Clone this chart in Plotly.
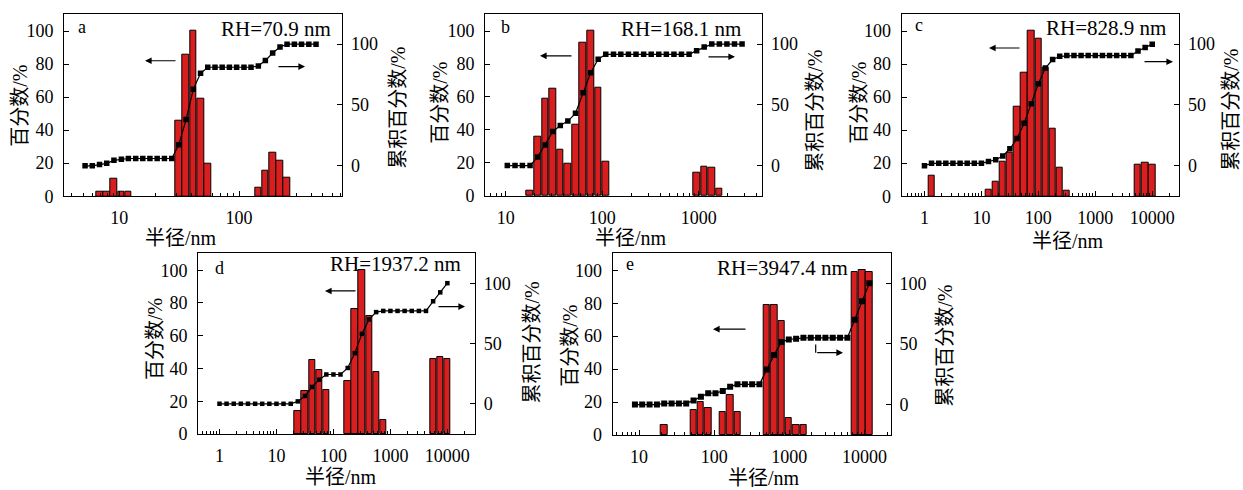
import numpy as np
import plotly.graph_objects as go

W, H = 1243, 490
RED = "#d81e1e"
FONT = "Liberation Serif, 'Noto Sans CJK SC', serif"

# ---------------- data (radius in nm, percent) ----------------
# panel a
a_cum_r = [5.17, 5.94, 6.83, 7.84, 9.01, 10.4, 11.9, 13.7, 15.7, 18.0, 20.7, 23.8, 27.4,
           31.4, 36.1, 41.5, 47.7, 54.8, 63.0, 72.3, 83.1, 95.5, 110, 126, 145, 166, 191,
           220, 252, 290, 333, 383, 440]
a_cum = [0, 0, 1, 2, 4.5, 5.4, 6, 6, 6, 6, 6, 6, 6, 17.3, 38, 63, 76, 81, 81, 81, 81, 81,
         81, 81, 82, 86.5, 92.7, 97.6, 100, 100, 100, 100, 100]
a_bar_r = [6.83, 7.84, 9.01, 10.4, 11.9, 31.4, 36.1, 41.5, 47.7, 54.8, 145, 166, 191, 220, 252]
a_bar = [3, 3, 10.5, 3, 3, 45.5, 85.5, 100, 59, 19.5, 5, 15.5, 26.5, 21.5, 11]

# panel b
b_cum_r = [10.4, 12.5, 14.9, 17.9, 21.4, 25.7, 30.8, 36.8, 44.1, 52.9, 63.4, 75.9, 90.9,
           109, 131, 156, 187, 224, 269, 322, 386, 462, 554, 663, 795, 952, 1140, 1366,
           1637, 1961, 2349, 2814]
b_cum = [0, 0, 0, 0, 7, 17, 28, 33, 36.6, 43, 60, 76.4, 87.5, 91.6, 91.6, 91.6, 91.6, 91.6,
         91.6, 91.6, 91.6, 91.6, 91.6, 91.6, 91.6, 94.6, 97.6, 100, 100, 100, 100, 100]
b_bar_r = [17.9, 21.4, 25.7, 30.8, 36.8, 44.1, 52.9, 63.4, 75.9, 90.9, 109, 952, 1140, 1366, 1637]
b_bar = [3, 36, 59, 65, 28, 19.5, 43, 93, 100, 65.5, 21, 14, 18, 17, 4.5]

# panel c
c_cum_r = [1, 1.33, 1.78, 2.37, 3.16, 4.22, 5.62, 7.5, 10, 13.3, 17.8, 23.7, 31.6, 42.2,
           56.2, 75, 100, 133, 178, 237, 316, 422, 562, 750, 1000, 1334, 1778, 2371, 3162,
           4217, 5623, 7499, 10000]
c_cum = [0, 2, 2, 2, 2, 2, 2, 2, 2, 3.5, 5, 8, 14, 22.4, 35, 51, 67.4, 80.3, 87.3, 90, 90.6,
         90.6, 90.6, 90.6, 90.6, 90.6, 90.6, 90.6, 90.6, 90.6, 94.3, 97.3, 100]
c_bar_r = [1.33, 13.3, 17.8, 23.7, 31.6, 42.2, 56.2, 75, 100, 133, 178, 237, 316, 5623, 7499, 10000]
c_bar = [12.5, 4, 8.7, 21, 26.4, 54, 74.6, 100, 95.5, 78, 40.6, 17, 3.5, 19, 20, 19]

# panel d
d_cum_r = [1, 1.33, 1.78, 2.37, 3.16, 4.22, 5.62, 7.5, 10, 13.3, 17.8, 23.7, 31.6, 42.2,
           56.2, 75, 100, 133, 178, 237, 316, 422, 562, 750, 1000, 1334, 1778, 2371, 3162,
           4217, 5623, 7499, 10000]
d_cum = [0, 0, 0, 0, 0, 0, 0, 0, 0, 0, 0, 2, 6.5, 14, 20, 24.3, 24.3, 24.3, 29.7, 42, 58,
         70, 76, 77, 77, 77, 77, 77, 77, 77, 85, 92.4, 100]
d_bar_r = [23.7, 31.6, 42.2, 56.2, 75, 178, 237, 316, 422, 562, 750, 5623, 7499, 10000]
d_bar = [14, 26, 45, 39, 27, 32.5, 76, 100, 72, 38, 8.5, 46, 47, 46]

# panel e
e_cum_r = [8.81, 11.0, 13.8, 17.3, 21.6, 27.1, 33.9, 42.4, 53.1, 66.5, 83.2, 104, 130, 163,
           204, 256, 320, 400, 501, 627, 785, 983, 1230, 1540, 1928, 2413, 3020, 3781, 4732,
           5923, 7413, 9279, 11614]
e_cum = [0, 0, 0, 0, 1, 1, 1, 1, 3.5, 6.5, 9.4, 9.4, 11.3, 14.8, 16.7, 16.7, 16.7, 16.7, 29,
         41, 51.6, 53.8, 54.3, 55.1, 55.1, 55.1, 55.1, 55.1, 55.1, 55.1, 70, 85.2, 100]
e_bar_r = [21.6, 53.1, 66.5, 83.2, 130, 163, 204, 501, 627, 785, 983, 1230, 1540, 7413, 9279, 11614]
e_bar = [6, 15, 20, 16.5, 14, 24, 14, 79, 79, 69, 10.5, 6.3, 6.3, 99, 100, 99]

labels = ["a", "b", "c", "d", "e"]
rh_text = ["RH=70.9 nm", "RH=168.1 nm", "RH=828.9 nm", "RH=1937.2 nm", "RH=3947.4 nm"]
major_ticks = [1, 10, 100, 1000, 10000]
major_text = ["1", "10", "100", "1000", "10000"]

panels = [
    dict(cr=a_cum_r, cv=a_cum, br=a_bar_r, bv=a_bar),
    dict(cr=b_cum_r, cv=b_cum, br=b_bar_r, bv=b_bar),
    dict(cr=c_cum_r, cv=c_cum, br=c_bar_r, bv=c_bar),
    dict(cr=d_cum_r, cv=d_cum, br=d_bar_r, bv=d_bar),
    dict(cr=e_cum_r, cv=e_cum, br=e_bar_r, bv=e_bar),
]

# ---------------- layout geometry (pixels) ----------------
boxes = [  # x0, x1, ytop, ybottom
    (64.3, 342.3, 14, 200.3),
    (485.3, 762.3, 14, 200.0),
    (901.7, 1179.3, 14, 200.3),
    (198.3, 475.0, 258.3, 443.0),
    (612.7, 890.7, 258.3, 444.0),
]
xranges = [(0.54, 2.863), (0.789, 3.659), (-0.400, 4.475), (-0.372, 4.485), (0.649, 4.349)]
bin_step = [0.0603, 0.0783, 0.125, 0.125, 0.0975]
bar_fill = [0.93, 0.88, 0.89, 0.89, 0.87]
msize = [5.5, 5.5, 5.5, 4.5, 6]

minor_vals = [m * 10 ** d for d in range(-1, 5) for m in range(2, 10)]

fig = go.Figure()
layout = dict(width=W, height=H, margin=dict(l=0, r=0, t=0, b=0),
              paper_bgcolor="white", plot_bgcolor="white", showlegend=False,
              font=dict(family=FONT, size=18, color="black"), bargap=0)

tickfont = dict(family=FONT, size=18, color="black")

for i, p in enumerate(panels):
    n = i + 1
    xname = "x" if n == 1 else f"x{n}"
    yl = 2 * n - 1
    yr = 2 * n
    ylname = "y" if yl == 1 else f"y{yl}"
    yrname = f"y{yr}"
    x0, x1, yt, yb = boxes[i]

    r = np.asarray(p["br"], float)
    half = bin_step[i] * bar_fill[i] / 2
    lo = r * 10 ** (-half)
    hi = r * 10 ** (half)
    fig.add_trace(go.Bar(x=p["br"], y=p["bv"], offset=(lo - r).tolist(), width=(hi - lo).tolist(),
                         marker=dict(color=RED, line=dict(color="black", width=1)),
                         xaxis=xname, yaxis=ylname, hoverinfo="x+y"))
    fig.add_trace(go.Scatter(x=p["cr"], y=p["cv"], mode="lines+markers",
                             line=dict(color="black", width=1.2),
                             marker=dict(symbol="square", size=msize[i], color="black"),
                             xaxis=xname, yaxis=yrname))

    lo_r, hi_r = xranges[i]
    mt = [(v, t) for v, t in zip(major_ticks, major_text) if 10 ** lo_r <= v <= 10 ** hi_r]
    mv = [v for v in minor_vals if 10 ** lo_r <= v <= 10 ** hi_r and v not in major_ticks]
    xkey = "xaxis" if n == 1 else f"xaxis{n}"
    layout[xkey] = dict(type="log", range=[lo_r, hi_r], domain=[x0 / W, x1 / W],
                        anchor=ylname, showline=True, linecolor="black", linewidth=1.2,
                        mirror=True, ticks="inside", ticklen=5, tickwidth=1, tickcolor="black",
                        tickmode="array", tickvals=[v for v, _ in mt], ticktext=[t for _, t in mt],
                        minor=dict(tickmode="array", tickvals=mv, ticks="inside", ticklen=3,
                                   tickwidth=1, tickcolor="black", showgrid=False),
                        showgrid=False, zeroline=False, tickfont=tickfont,
                        ticklabelstandoff=5)
    ylkey = "yaxis" if yl == 1 else f"yaxis{yl}"
    layout[ylkey] = dict(range=[0, 110.5], domain=[1 - yb / H, 1 - yt / H], anchor=xname,
                         side="left", showline=True, linecolor="black", linewidth=1.2,
                         ticks="inside", ticklen=5, tickwidth=1, tickcolor="black",
                         tickmode="array", tickvals=[0, 20, 40, 60, 80, 100],
                         showgrid=False, zeroline=False, tickfont=tickfont,
                         ticklabelstandoff=6)
    layout[f"yaxis{yr}"] = dict(range=[-25, 125], overlaying=ylname, anchor=xname,
                                side="right", showline=True, linecolor="black", linewidth=1.2,
                                ticks="inside", ticklen=5, tickwidth=1, tickcolor="black",
                                tickmode="array", tickvals=[0, 50, 100],
                                showgrid=False, zeroline=False, tickfont=tickfont,
                                ticklabelstandoff=4)

fig.update_layout(**layout)

# ---------------- annotations ----------------
def px(x):
    return x / W

def py(y):
    return 1 - y / H

anns = []
letter_pos = [(82, 28), (505.7, 28), (919, 26), (219, 274), (630, 270)]
rh_pos = [(333, 30), (742.7, 30), (1168.3, 29), (463.3, 269), (850, 274)]
xt_pos = [(180.7, 243), (630.7, 243), (1068, 246), (341, 486.5), (764, 488)]
ylt_pos = [(20, 108), (440, 105), (859, 105), (155, 346), (570, 353)]
yrt_pos = [(398, 110), (815, 113), (1231, 112), (531.7, 350), (945, 353)]

for i in range(5):
    anns.append(dict(x=px(letter_pos[i][0]), y=py(letter_pos[i][1]), xref="paper", yref="paper",
                     text=labels[i], showarrow=False, xanchor="center", yanchor="middle",
                     font=dict(family=FONT, size=18)))
    anns.append(dict(x=px(rh_pos[i][0]), y=py(rh_pos[i][1]), xref="paper", yref="paper",
                     text=rh_text[i], showarrow=False, xanchor="right", yanchor="middle",
                     font=dict(family=FONT, size=21)))
    anns.append(dict(x=px(xt_pos[i][0]), y=py(xt_pos[i][1]), xref="paper", yref="paper",
                     text="半径/nm", showarrow=False, xanchor="center", yanchor="middle",
                     borderpad=0, font=dict(family=FONT, size=20)))
    anns.append(dict(x=px(ylt_pos[i][0]), y=py(ylt_pos[i][1]), xref="paper", yref="paper",
                     text="百分数/%", showarrow=False, xanchor="center", yanchor="middle",
                     textangle=-90, font=dict(family=FONT, size=20)))
    anns.append(dict(x=px(yrt_pos[i][0]), y=py(yrt_pos[i][1]), xref="paper", yref="paper",
                     text="累积百分数/%", showarrow=False, xanchor="center", yanchor="middle",
                     textangle=-90, font=dict(family=FONT, size=20)))

# arrows: (head_x, head_y, tail_x, tail_y)
arrows = [
    (145, 62, 177, 62), (305, 68, 277, 68),
    (540, 57, 573, 57), (735, 58, 707, 58),
    (989, 49, 1021, 49), (1173, 63, 1143, 63),
    (325, 297, 357, 297), (465, 313, 437, 313),
    (713, 336, 747, 336), (843, 360, 815.7, 360),
]
for hx, hy, tx, ty in arrows:
    anns.append(dict(x=px(hx), y=py(hy), xref="paper", yref="paper", text="",
                     showarrow=True, ax=tx - hx, ay=ty - hy, axref="pixel", ayref="pixel",
                     arrowhead=2, arrowsize=1.1, arrowwidth=1.2, arrowcolor="black"))

fig.update_layout(annotations=anns)
fig.add_shape(type="line", xref="paper", yref="paper", x0=px(815.7), x1=px(815.7),
              y0=py(351.7), y1=py(360), line=dict(color="black", width=1.2))

fig.write_html("out.html", config={"displayModeBar": False},
               post_script="document.body.style.margin='0px';document.body.style.padding='0px';document.body.style.overflow='hidden';")
